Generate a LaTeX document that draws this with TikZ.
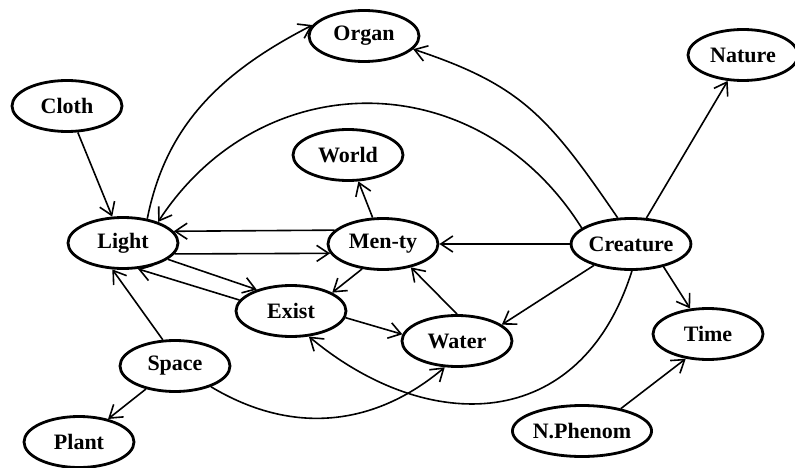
\documentclass[tikz,border=0pt]{standalone}
\usepackage{fontspec}
\setmainfont{Liberation Serif}
\usetikzlibrary{arrows.meta,shapes.geometric}
\begin{document}
\begin{tikzpicture}[x=1pt,y=-1pt,
  concept/.style={ellipse, draw, line width=2.8pt, minimum width=110pt, minimum height=51pt,
    inner sep=0pt, font=\fontsize{22}{24}\selectfont\bfseries},
  arr/.style={line width=1.6pt, -{Straight Barb[length=12pt,width=16pt]}}]
\useasboundingbox (0,0) rectangle (795,468);
\node[concept] (Organ)    at (364,36)  {Organ};
\node[concept] (Nature)   at (743,55)  {Nature};
\node[concept] (Cloth)    at (67,106)  {Cloth};
\node[concept] (World)    at (348,155) {World};
\node[concept] (Light)    at (123,243) {Light};
\node[concept] (Menty)    at (383,244) {Men-ty};
\node[concept] (Creature) at (631,244) {Creature};
\node[concept] (Exist)    at (291,311) {Exist};
\node[concept] (Water)    at (457,341) {Water};
\node[concept] (Time)     at (708,334) {Time};
\node[concept] (Space)    at (175,366) {Space};
\node[concept] (Plant)    at (79,442)  {Plant};
\node[concept] (NPhenom)  at (582,431) {N.Phenom};

\draw[arr] (Cloth) -- (Light);
\draw[arr] (Light.45) .. controls (165,130) and (215,75) .. (Organ.168);
\draw[arr] (Creature.162) .. controls (478,63) and (262,63) .. (Light.31);
\draw[arr] (Creature.117) .. controls (548,116) and (521,85) .. (Organ.-15);
\draw[arr] (Creature) -- (Nature);
\draw[arr] (Menty) -- (World);
\draw[arr] (Menty.164) -- (Light.13);
\draw[arr] (Light.-12) -- (Menty.190);
\draw[arr] (Creature) -- (Menty);
\draw[arr] (Light.-20) -- (Exist.148);
\draw[arr] (Exist.168) -- (Light.-60);
\draw[arr] (Menty.230) -- (Exist.24);
\draw[arr] (Exist.-7) -- (Water.173);
\draw[arr] (Water.90) -- (Menty.-40);
\draw[arr] (Creature.210) -- (Water.20);
\draw[arr] (Creature.-88) .. controls (580,435) and (427,435) .. (Exist.-55);
\draw[arr] (Space.-30) .. controls (293,436) and (375,426) .. (Water.245);
\draw[arr] (Space.115) -- (Light.248);
\draw[arr] (Space) -- (Plant);
\draw[arr] (Creature.-35) -- (Time.125);
\draw[arr] (NPhenom.30) -- (Time.228);
\end{tikzpicture}
\end{document}
